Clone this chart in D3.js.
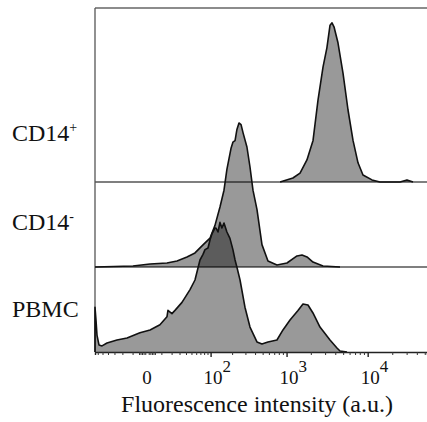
<!DOCTYPE html>
<html>
<head>
<meta charset="utf-8">
<script src="https://cdn.jsdelivr.net/npm/d3@7"></script>
<style>
  html, body { margin: 0; padding: 0; background: #fff; }
  text { font-family: "Liberation Serif", "Times New Roman", serif; fill: #111; }
</style>
</head>
<body>
<div id="chart"></div>
<script>
// Row names, top to bottom
const rows = ["CD14+", "CD14-", "PBMC"];

// Histograms: [fluorescence (a.u.), relative count]
const cd14pos = [
  [-66.5, 0], [830, 0], [1200, 2.5], [1470, 5.6], [1790, 13.8], [2130, 26],
  [2450, 51], [2830, 72], [3160, 84], [3450, 98], [3650, 99.5], [3860, 97],
  [4320, 87], [4980, 68], [5740, 45], [6610, 26], [7610, 12], [8760, 4.4],
  [11300, 1.3], [14100, 0], [24900, 0], [30300, 1.3], [35900, 0], [53260, 0]
];
const cd14neg = [
  [-66.5, 0], [-9.7, 0.6], [1.8, 1.9], [15.1, 2.5], [26.6, 3.8], [41.7, 6.3],
  [57.3, 8.8], [76.9, 13.8], [98, 18], [115.8, 26], [136.3, 37.5], [155, 48],
  [170, 61], [193, 74], [205, 78], [219, 79], [232, 86], [247, 90], [263, 89],
  [279, 84], [314, 75], [344, 62.5], [376, 48], [423, 36], [490, 14],
  [584, 3.8], [758, 1.3], [1012, 2.5], [1348, 6.9], [1556, 7.5], [1794, 6.3],
  [2126, 3.1], [2826, 0.6], [4574, 0], [53260, 0]
];
const pbmc = [
  [-66.5, 0], [-66.5, 28], [-64.1, 20], [-61.8, 10.6], [-57.3, 4.4], [-51, 3.8],
  [-41.7, 5.6], [-26.6, 7.5], [-15.1, 8.8], [-4.4, 12], [1.8, 13.8], [8.8, 17],
  [15.1, 22], [16.1, 26], [20.4, 24], [24, 26], [33.6, 31], [47.2, 39],
  [57.3, 45], [69, 57.5], [76.9, 61], [82.5, 64], [91.5, 65], [98, 70],
  [104.8, 74], [115.8, 77.5], [119.7, 77.5], [127.8, 75], [136.3, 81],
  [145, 77.5], [155, 80.6], [170, 75], [187, 71], [205, 64], [219, 57.5],
  [232, 53], [255, 45], [296, 28], [344, 15.6], [423, 6.3], [490, 5],
  [584, 6.3], [758, 7.5], [902, 13.8], [1104, 20], [1387, 26], [1600, 30],
  [1844, 29.4], [2126, 24.4], [2594, 15.6], [3446, 7.5], [4200, 2.5],
  [4574, 0.6], [5580, 0], [53260, 0]
];
const series = [cd14pos, cd14neg, pbmc];

// Axis ticks
const majorTicks = [0, 100, 1000, 10000];
const majorExp = [null, 2, 3, 4];
const minorTicks = [
  -60, -50, -40, -30, -20, -10, -5, -4, -3, -2, -1, 1, 2, 3, 4, 5,
  10, 20, 30, 40, 50, 60, 70, 80, 90,
  200, 300, 400, 500, 600, 700, 800, 900,
  2000, 3000, 4000, 5000, 6000, 7000, 8000, 9000,
  20000, 30000, 40000, 50000
];

const width = 427, height = 422;
const plotLeft = 95, plotRight = 427, plotTop = 8;

const svg = d3.select("#chart").append("svg")
  .attr("width", width).attr("height", height)
  .attr("viewBox", `0 0 ${width} ${height}`);

const x = d3.scaleSymlog().constant(20)
  .domain([-66.5, 53260]).range([plotLeft, plotRight]);

// baseline for each row
const base = d3.scalePoint().domain(rows).range([182, 352]);
const h = d3.scaleLinear().domain([0, 100]).range([0, 160]);

// frame (top + left) and row baselines
svg.append("line").attr("x1", plotLeft).attr("x2", plotRight).attr("y1", plotTop).attr("y2", plotTop)
  .attr("stroke", "#666").attr("stroke-width", 1.3);
svg.append("line").attr("x1", plotLeft).attr("x2", plotLeft).attr("y1", plotTop).attr("y2", base("PBMC"))
  .attr("stroke", "#555").attr("stroke-width", 1.3);
rows.slice(0, 2).forEach(r => {
  svg.append("line").attr("x1", plotLeft).attr("x2", plotRight)
    .attr("y1", base(r)).attr("y2", base(r))
    .attr("stroke", "#555").attr("stroke-width", 1.3);
});

// histograms
series.forEach((data, i) => {
  const b = base(rows[i]);
  const area = d3.area()
    .x(d => x(d[0]))
    .y0(b)
    .y1(d => b - h(d[1]));
  svg.append("path").datum(data)
    .attr("d", area)
    .attr("fill", "#000")
    .attr("fill-opacity", 0.4);

  const on = data.map((d, j) => d[1] > 0 ||
    (j > 0 && data[j - 1][1] > 0) || (j < data.length - 1 && data[j + 1][1] > 0));
  const line = d3.line()
    .defined((d, j) => on[j])
    .x(d => x(d[0]))
    .y(d => b - h(d[1]));
  svg.append("path").datum(data)
    .attr("d", line)
    .attr("fill", "none")
    .attr("stroke", "#111")
    .attr("stroke-width", 1.6)
    .attr("stroke-linejoin", "round");
});

// x axis
const axisY = base("PBMC");
const minorAxis = svg.append("g")
  .attr("transform", `translate(0,${axisY})`)
  .call(d3.axisBottom(x).tickValues(minorTicks).tickSize(3).tickFormat(""));
minorAxis.select(".domain").attr("stroke", "#222").attr("stroke-width", 1.4);
minorAxis.selectAll(".tick line").attr("stroke", "#333");

const majorAxis = svg.append("g")
  .attr("transform", `translate(0,${axisY})`)
  .call(d3.axisBottom(x).tickValues(majorTicks.slice(1)).tickSize(5).tickFormat(""));
majorAxis.select(".domain").remove();
majorAxis.selectAll(".tick line").attr("stroke", "#222").attr("stroke-width", 1.4);

// tick labels
majorTicks.forEach((t, i) => {
  if (majorExp[i] === null) {
    svg.append("text").attr("x", x(t)).attr("y", 384)
      .attr("text-anchor", "middle").attr("font-size", 19).text("0");
  } else {
    const tx = svg.append("text").attr("x", x(t) - 7).attr("y", 384)
      .attr("font-size", 19);
    tx.append("tspan").text("10");
    tx.append("tspan").attr("font-size", 17).attr("dy", -12).text(majorExp[i]);
  }
});

svg.append("text")
  .attr("x", 257).attr("y", 412)
  .attr("text-anchor", "middle")
  .attr("font-size", 24)
  .text("Fluorescence intensity (a.u.)");

// row labels
const rowLabelY = [141, 230, 317];
rows.forEach((r, i) => {
  const t = svg.append("text").attr("x", 12).attr("y", rowLabelY[i]).attr("font-size", 24);
  if (r.startsWith("CD14")) {
    t.append("tspan").text("CD14");
    t.append("tspan").attr("font-size", 14).attr("dy", -9).text(r.slice(4) === "+" ? "+" : "-");
  } else {
    t.append("tspan").text(r);
  }
});
</script>
</body>
</html>
